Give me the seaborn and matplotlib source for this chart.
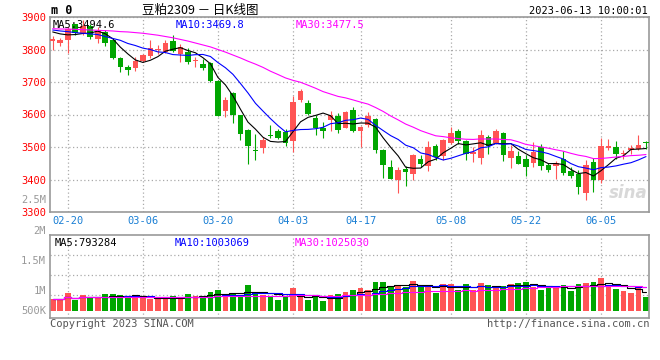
import matplotlib
matplotlib.use('Agg')
import matplotlib.pyplot as plt
import seaborn as sns
import numpy as np
import pandas as pd

# trading days shown (MM-DD)
dates = ['02-16', '02-17', '02-20', '02-21', '02-22', '02-23', '02-24', '02-27', '02-28',
         '03-01', '03-02', '03-03', '03-06', '03-07', '03-08', '03-09', '03-10', '03-13',
         '03-14', '03-15', '03-16', '03-17', '03-20', '03-21', '03-22', '03-23', '03-24',
         '03-27', '03-28', '03-29', '03-30', '03-31', '04-03', '04-04', '04-06', '04-07',
         '04-10', '04-11', '04-12', '04-13', '04-14', '04-17', '04-18', '04-19', '04-20',
         '04-21', '04-24', '04-25', '04-26', '04-27', '04-28', '05-04', '05-05', '05-08',
         '05-09', '05-10', '05-11', '05-12', '05-15', '05-16', '05-17', '05-18', '05-19',
         '05-22', '05-23', '05-24', '05-25', '05-26', '05-29', '05-30', '05-31', '06-01',
         '06-02', '06-05', '06-06', '06-07', '06-08', '06-09', '06-12', '06-13']

opens = [3825, 3819, 3830, 3877, 3852, 3872, 3833, 3855, 3830, 3774,
         3746, 3744, 3766, 3780, 3798, 3793, 3826, 3786, 3793, 3764,
         3756, 3759, 3703, 3611, 3665, 3597, 3552, 3491, 3498, 3538,
         3549, 3546, 3517, 3645, 3635, 3590, 3558, 3583, 3596, 3560,
         3614, 3548, 3568, 3586, 3490, 3437, 3400, 3431, 3416, 3464,
         3441, 3503, 3471, 3513, 3550, 3520, 3479, 3467, 3530, 3512,
         3543, 3467, 3473, 3464, 3452, 3500, 3446, 3441, 3462, 3426,
         3416, 3358, 3455, 3398, 3496, 3501, 3477, 3490, 3495, 3516]
highs = [3843, 3836, 3868, 3879, 3891, 3877, 3868, 3859, 3835, 3776,
         3753, 3777, 3785, 3830, 3815, 3829, 3844, 3817, 3805, 3778,
         3771, 3762, 3705, 3654, 3670, 3600, 3556, 3540, 3531, 3568,
         3556, 3556, 3657, 3677, 3645, 3597, 3576, 3612, 3604, 3612,
         3622, 3565, 3607, 3588, 3495, 3461, 3439, 3443, 3477, 3474,
         3517, 3510, 3525, 3563, 3554, 3523, 3500, 3553, 3537, 3555,
         3545, 3505, 3489, 3474, 3514, 3510, 3451, 3456, 3489, 3438,
         3428, 3461, 3467, 3528, 3525, 3517, 3492, 3505, 3538, 3520]
lows = [3800, 3812, 3789, 3846, 3846, 3833, 3819, 3810, 3770, 3731,
        3721, 3735, 3763, 3775, 3786, 3788, 3792, 3763, 3754, 3746,
        3736, 3700, 3595, 3592, 3575, 3522, 3447, 3460, 3483, 3528,
        3524, 3502, 3484, 3639, 3600, 3537, 3529, 3549, 3542, 3557,
        3545, 3500, 3561, 3481, 3406, 3401, 3360, 3379, 3398, 3439,
        3426, 3459, 3459, 3510, 3508, 3459, 3454, 3447, 3477, 3510,
        3456, 3434, 3447, 3411, 3439, 3430, 3422, 3401, 3413, 3405,
        3356, 3338, 3362, 3388, 3490, 3464, 3464, 3477, 3490, 3493]
closes = [3833, 3828, 3862, 3850, 3873, 3840, 3858, 3821, 3773, 3745,
          3736, 3765, 3782, 3806, 3801, 3820, 3795, 3807, 3761, 3767,
          3744, 3702, 3596, 3646, 3598, 3539, 3504, 3487, 3522, 3534,
          3529, 3512, 3639, 3673, 3603, 3559, 3548, 3598, 3552, 3608,
          3548, 3563, 3596, 3490, 3444, 3403, 3430, 3422, 3474, 3447,
          3500, 3470, 3520, 3543, 3520, 3479, 3486, 3537, 3504, 3549,
          3474, 3489, 3449, 3437, 3486, 3442, 3430, 3451, 3421, 3411,
          3378, 3446, 3398, 3502, 3504, 3477, 3483, 3497, 3507, 3513]

# volume in thousands
volumes = [493, 480, 726, 438, 630, 548, 548, 685, 685, 630,
           575, 589, 534, 493, 507, 534, 603, 507, 685, 589,
           617, 767, 849, 685, 685, 658, 1055, 767, 644, 617,
           438, 548, 932, 548, 438, 562, 411, 630, 685, 767,
           849, 932, 849, 1178, 1178, 986, 1055, 986, 1219, 959,
           1055, 740, 1096, 1096, 849, 1096, 849, 1137, 1055, 918,
           1014, 1096, 1137, 1178, 986, 849, 918, 1014, 1055, 822,
           1096, 1137, 1178, 1343, 1014, 891, 808, 726, 959, 575]

ma5_head = [3854, 3848, 3845, 3846]
ma10_head = [3860, 3857, 3855, 3852, 3850, 3848, 3846, 3840, 3834]
ma30_head = [3864, 3863, 3863, 3862, 3861, 3860, 3859, 3858, 3857, 3855,
             3854, 3852, 3850, 3847, 3844, 3840, 3836, 3831, 3826, 3820,
             3814, 3808, 3800, 3792, 3783, 3774, 3764, 3755, 3745]

tick_dates = ['02-20', '03-06', '03-20', '04-03', '04-17', '05-08', '05-22', '06-05']
price_ticks = [3300, 3400, 3500, 3600, 3700, 3800, 3900]

RED = '#ff5454'
GREEN = '#00a600'
GRID = '#aaaaaa'
FRAME = '#999999'

df = pd.DataFrame({'date': dates, 'open': opens, 'high': highs, 'low': lows,
                   'close': closes, 'vol': volumes})
df['i'] = np.arange(len(df))
df['dir'] = np.where(df['close'] >= df['open'], 'up', 'down')

close_s = pd.Series(closes, dtype=float)
ma5 = close_s.rolling(5).mean()
ma5.iloc[:len(ma5_head)] = ma5_head
ma10 = close_s.rolling(10).mean()
ma10.iloc[:len(ma10_head)] = ma10_head
ma30 = close_s.rolling(30).mean()
ma30.iloc[:len(ma30_head)] = ma30_head
df['ma5'], df['ma10'], df['ma30'] = ma5, ma10, ma30

df['vma5'] = df['vol'].rolling(5, min_periods=1).mean()
df['vma10'] = df['vol'].rolling(10, min_periods=1).mean()
df['vma30'] = df['vol'].rolling(30, min_periods=1).mean()

sns.set_style('white')
plt.rcParams['font.family'] = ['DejaVu Sans Mono', 'Noto Sans CJK SC']

W, H = 660, 360
fig = plt.figure(figsize=(6.6, 3.6), dpi=100)


def rect(l, t, r, b):
    return [l / W, 1 - b / H, (r - l) / W, (b - t) / H]


ax = fig.add_axes(rect(50, 17, 649, 212))
axv = fig.add_axes(rect(50, 235, 649, 318))

tick_pos = [dates.index(d) for d in tick_dates]

# ---- price panel
colors = [RED if d == 'up' else GREEN for d in df['dir']]
ax.vlines(df['i'], df['low'], df['high'], colors=colors, lw=0.8, zorder=2)
body_h = np.maximum((df['close'] - df['open']).abs(), 1.5)
ax.bar(df['i'], body_h, bottom=np.minimum(df['open'], df['close']),
       width=0.74, color=colors, linewidth=0, zorder=3)

sns.lineplot(data=df, x='i', y='ma5', color='black', lw=0.8, ax=ax, zorder=4)
sns.lineplot(data=df, x='i', y='ma10', color='#0000ff', lw=0.8, ax=ax, zorder=4)
sns.lineplot(data=df, x='i', y='ma30', color='#ff00ff', lw=0.8, ax=ax, zorder=4)

ax.set_xlim(-0.36, 79.4)
ax.set_ylim(3300, 3900)
ax.set_yticks(price_ticks)
ax.set_yticklabels([str(p) for p in price_ticks], color='#ff0000', fontsize=7.5)
ax.set_xticks(tick_pos)
ax.set_xticklabels(tick_dates, color='#1a7fd4', fontsize=7.5)
ax.tick_params(length=0, pad=3)
ax.set_xlabel('')
ax.set_ylabel('')
ax.grid(True, color=GRID, ls=(0, (1, 2)), lw=0.9)
for s in ax.spines.values():
    s.set_color(FRAME)
    s.set_linewidth(1.2)

ax.text(0.005, 0.985, 'MA5:%.1f' % 3494.6, transform=ax.transAxes, va='top', fontsize=7.5, color='black')
ax.text(0.21, 0.985, 'MA10:%.1f' % 3469.8, transform=ax.transAxes, va='top', fontsize=7.5, color='#0000ff')
ax.text(0.41, 0.985, 'MA30:%.1f' % 3477.5, transform=ax.transAxes, va='top', fontsize=7.5, color='#ff00ff')
ax.text(0.965, 0.1, 'sina', transform=ax.transAxes, ha='center', va='center', fontsize=12,
        style='italic', weight='bold', color='#c8c8c8', alpha=0.7, family='DejaVu Sans')

# ---- volume panel
sns.barplot(data=df, x='i', y='vol', hue='dir', palette={'up': RED, 'down': GREEN},
            native_scale=True, dodge=False, width=0.76, saturation=1, legend=False,
            linewidth=0, ax=axv, zorder=2)
sns.lineplot(data=df, x='i', y='vma5', color='black', lw=0.8, drawstyle='steps-mid', ax=axv, zorder=4)
sns.lineplot(data=df, x='i', y='vma10', color='#0000ff', lw=0.8, drawstyle='steps-mid', ax=axv, zorder=4)
sns.lineplot(data=df, x='i', y='vma30', color='#ff00ff', lw=0.8, drawstyle='steps-mid', ax=axv, zorder=4)

axv.set_xlim(-0.36, 79.4)
axv.set_ylim(-300, 3124)
axv.set_xticks(tick_pos)
axv.set_xticklabels([])
axv.set_yticks([])
axv.set_xlabel('')
axv.set_ylabel('')
axv.tick_params(length=0)
axv.grid(True, axis='x', color=GRID, ls=(0, (1, 2)), lw=0.9)
for lvl in [2289, 1467, 630]:
    axv.axhline(lvl, color=GRID, ls=(0, (1, 2)), lw=0.9, zorder=1)
for s in axv.spines.values():
    s.set_color(FRAME)
    s.set_linewidth(1.2)

axv.text(0.008, 0.96, 'MA5:793284', transform=axv.transAxes, va='top', fontsize=7.5, color='black')
axv.text(0.208, 0.96, 'MA10:1003069', transform=axv.transAxes, va='top', fontsize=7.5, color='#0000ff')
axv.text(0.408, 0.96, 'MA30:1025030', transform=axv.transAxes, va='top', fontsize=7.5, color='#ff00ff')

# volume axis labels as drawn by the source chart
for lab, y in [('2.5M', 200), ('2M', 231), ('1.5M', 260.5), ('1M', 290.5), ('500K', 310.5)]:
    fig.text(46 / W, 1 - y / H, lab, ha='right', va='center', fontsize=7.5, color='#999999')

# ---- header and footer
fig.text(51 / W, 1 - 11 / H, 'm 0', ha='left', va='center', fontsize=8.5, weight='bold', color='black')
fig.text(200 / W, 1 - 10 / H, '豆粕2309 － 日K线图', ha='center', va='center', fontsize=9,
         color='black', family=['Noto Sans CJK SC', 'DejaVu Sans'])
fig.text(648 / W, 1 - 11 / H, '2023-06-13 10:00:01', ha='right', va='center', fontsize=7.5, color='black')
fig.text(50 / W, 1 - 324 / H, 'Copyright 2023 SINA.COM', ha='left', va='center', fontsize=7.5, color='#555555')
fig.text(649 / W, 1 - 324 / H, 'http://finance.sina.com.cn', ha='right', va='center', fontsize=7.5, color='#555555')

fig.savefig('out.png', dpi=100, facecolor='white')
